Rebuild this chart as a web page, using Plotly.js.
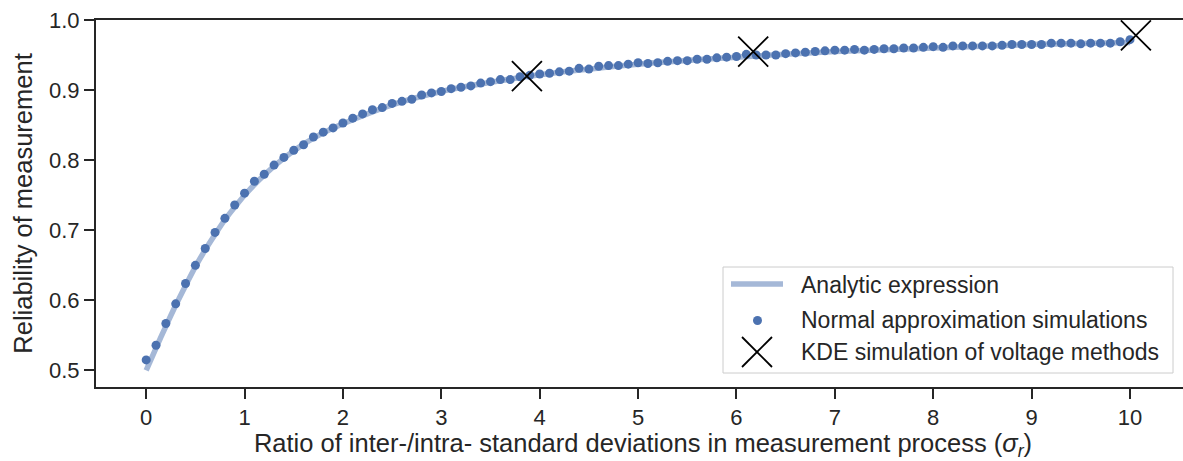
<!DOCTYPE html>
<html>
<head>
<meta charset="utf-8">
<script src="https://cdn.plot.ly/plotly-3.0.1.min.js"></script>
<style>
  html, body { margin: 0; padding: 0; overflow: hidden; background: #ffffff; }
  #chart { width: 1190px; height: 461px; }
</style>
</head>
<body>
<div id="chart"></div>
<script>
// Analytic reliability curve
const analyticX = [0, 0.1, 0.2, 0.3, 0.4, 0.5, 0.6, 0.7, 0.8, 0.9, 1.0, 1.2, 1.4, 1.6, 1.8, 2.0, 2.5, 3.0, 3.5, 4.0, 5.0, 6.0, 7.0, 8.0, 9.0, 10.0];
const analyticY = [0.500, 0.532, 0.563, 0.593, 0.621, 0.648, 0.672, 0.694, 0.715, 0.733, 0.750, 0.779, 0.803, 0.823, 0.839, 0.852, 0.879, 0.898, 0.911, 0.922, 0.937, 0.947, 0.955, 0.960, 0.965, 0.968];

// Normal approximation simulations
const simX = [0.0, 0.1, 0.2, 0.3, 0.4, 0.5, 0.6, 0.7, 0.8, 0.9,
              1.0, 1.1, 1.2, 1.3, 1.4, 1.5, 1.6, 1.7, 1.8, 1.9,
              2.0, 2.1, 2.2, 2.3, 2.4, 2.5, 2.6, 2.7, 2.8, 2.9,
              3.0, 3.1, 3.2, 3.3, 3.4, 3.5, 3.6, 3.7, 3.8, 3.9,
              4.0, 4.1, 4.2, 4.3, 4.4, 4.5, 4.6, 4.7, 4.8, 4.9,
              5.0, 5.1, 5.2, 5.3, 5.4, 5.5, 5.6, 5.7, 5.8, 5.9,
              6.0, 6.1, 6.2, 6.3, 6.4, 6.5, 6.6, 6.7, 6.8, 6.9,
              7.0, 7.1, 7.2, 7.3, 7.4, 7.5, 7.6, 7.7, 7.8, 7.9,
              8.0, 8.1, 8.2, 8.3, 8.4, 8.5, 8.6, 8.7, 8.8, 8.9,
              9.0, 9.1, 9.2, 9.3, 9.4, 9.5, 9.6, 9.7, 9.8, 9.9,
              10.0];
const simY = [0.515, 0.536, 0.567, 0.595, 0.624, 0.650, 0.674, 0.697, 0.717, 0.736,
              0.753, 0.770, 0.780, 0.793, 0.804, 0.814, 0.822, 0.833, 0.840, 0.846,
              0.853, 0.860, 0.866, 0.872, 0.875, 0.881, 0.884, 0.887, 0.893, 0.896,
              0.898, 0.902, 0.904, 0.906, 0.910, 0.912, 0.915, 0.915, 0.919, 0.921,
              0.923, 0.924, 0.926, 0.927, 0.931, 0.930, 0.934, 0.935, 0.935, 0.937,
              0.939, 0.938, 0.939, 0.941, 0.942, 0.942, 0.944, 0.944, 0.946, 0.947,
              0.948, 0.951, 0.950, 0.950, 0.950, 0.952, 0.953, 0.954, 0.955, 0.956,
              0.957, 0.957, 0.958, 0.957, 0.958, 0.959, 0.959, 0.960, 0.960, 0.961,
              0.962, 0.961, 0.963, 0.963, 0.963, 0.963, 0.963, 0.964, 0.965, 0.965,
              0.965, 0.965, 0.967, 0.967, 0.967, 0.966, 0.967, 0.967, 0.967, 0.969,
              0.972];

// KDE simulation of voltage methods
const kdeX = [3.87, 6.17, 10.06];
const kdeY = [0.920, 0.955, 0.978];

const xTicks = [0, 1, 2, 3, 4, 5, 6, 7, 8, 9, 10];
const yTicks = [0.5, 0.6, 0.7, 0.8, 0.9, 1.0];
const yTickText = ['0.5', '0.6', '0.7', '0.8', '0.9', '1.0'];

const seriesNames = ['Analytic expression', 'Normal approximation simulations', 'KDE simulation of voltage methods'];

const FONT = 'Liberation Sans, Arial, Helvetica, sans-serif';
const INK = '#262626';
const BLUE = '#4c72b0';
const LIGHT_BLUE = 'rgba(76,114,176,0.5)';

const W = 1190, H = 461;
const M = { l: 96, r: 0, t: 20, b: 74 };

// pixel position -> paper fraction, used to lay out the legend box
const px = v => (v - M.l) / (W - M.l - M.r);
const py = v => (H - M.b - v) / (H - M.t - M.b);

const traces = [
  {
    x: analyticX, y: analyticY,
    type: 'scatter', mode: 'lines',
    name: seriesNames[0],
    line: { color: LIGHT_BLUE, width: 5.5, shape: 'spline', smoothing: 0.8 },
    showlegend: false
  },
  {
    x: simX, y: simY,
    type: 'scatter', mode: 'markers',
    name: seriesNames[1],
    marker: { color: BLUE, size: 9, line: { width: 0 } },
    showlegend: false
  },
  {
    x: kdeX, y: kdeY,
    type: 'scatter', mode: 'markers',
    name: seriesNames[2],
    marker: { symbol: 'x-thin', size: 30, color: '#000000', line: { color: '#000000', width: 1.8 } },
    showlegend: false
  }
];

// Legend: framed box with one glyph + label per series
const legendShapes = [
  { type: 'rect', xref: 'paper', yref: 'paper',
    x0: px(723), x1: px(1173), y0: py(267), y1: py(373),
    fillcolor: 'rgba(255,255,255,0.8)', line: { color: '#cccccc', width: 1 } },
  { type: 'line', xref: 'paper', yref: 'paper',
    x0: px(731), x1: px(783), y0: py(284), y1: py(284),
    line: { color: LIGHT_BLUE, width: 5.5 } },
  { type: 'circle', xref: 'paper', yref: 'paper',
    x0: px(753), x1: px(762), y0: py(316), y1: py(325),
    fillcolor: BLUE, line: { width: 0 } },
  { type: 'line', xref: 'paper', yref: 'paper',
    x0: px(742), x1: px(772), y0: py(337), y1: py(367),
    line: { color: '#000000', width: 1.8 } },
  { type: 'line', xref: 'paper', yref: 'paper',
    x0: px(742), x1: px(772), y0: py(367), y1: py(337),
    line: { color: '#000000', width: 1.8 } }
];
const legendRows = [285, 320, 352];
const legendLabels = seriesNames.map((name, i) => ({
  xref: 'paper', yref: 'paper',
  x: px(799), y: py(legendRows[i]),
  xanchor: 'left', yanchor: 'middle',
  text: name, showarrow: false,
  font: { family: FONT, size: 23, color: INK }
}));

const axisCommon = {
  showgrid: false,
  zeroline: false,
  showline: true,
  linecolor: INK,
  linewidth: 2,
  mirror: true,
  ticks: 'outside',
  ticklen: 10,
  tickwidth: 2,
  tickcolor: INK,
  tickfont: { family: FONT, size: 22, color: INK }
};

const layout = {
  width: W,
  height: H,
  margin: M,
  paper_bgcolor: '#ffffff',
  plot_bgcolor: '#ffffff',
  font: { family: FONT, size: 22, color: INK },
  xaxis: Object.assign({}, axisCommon, {
    range: [-0.51, 10.61],
    tickvals: xTicks,
    title: { text: 'Ratio of inter-/intra- standard deviations in measurement process (<i>σ<sub>r</sub></i>)',
             font: { family: FONT, size: 25.5, color: INK }, standoff: 11 }
  }),
  yaxis: Object.assign({}, axisCommon, {
    range: [0.4764, 1.0],
    tickvals: yTicks,
    ticktext: yTickText,
    title: { text: 'Reliability of measurement',
             font: { family: FONT, size: 25.5, color: INK }, standoff: 9 }
  }),
  shapes: legendShapes,
  annotations: legendLabels,
  showlegend: false
};

Plotly.newPlot('chart', traces, layout, { displayModeBar: false, staticPlot: true });
</script>
</body>
</html>
